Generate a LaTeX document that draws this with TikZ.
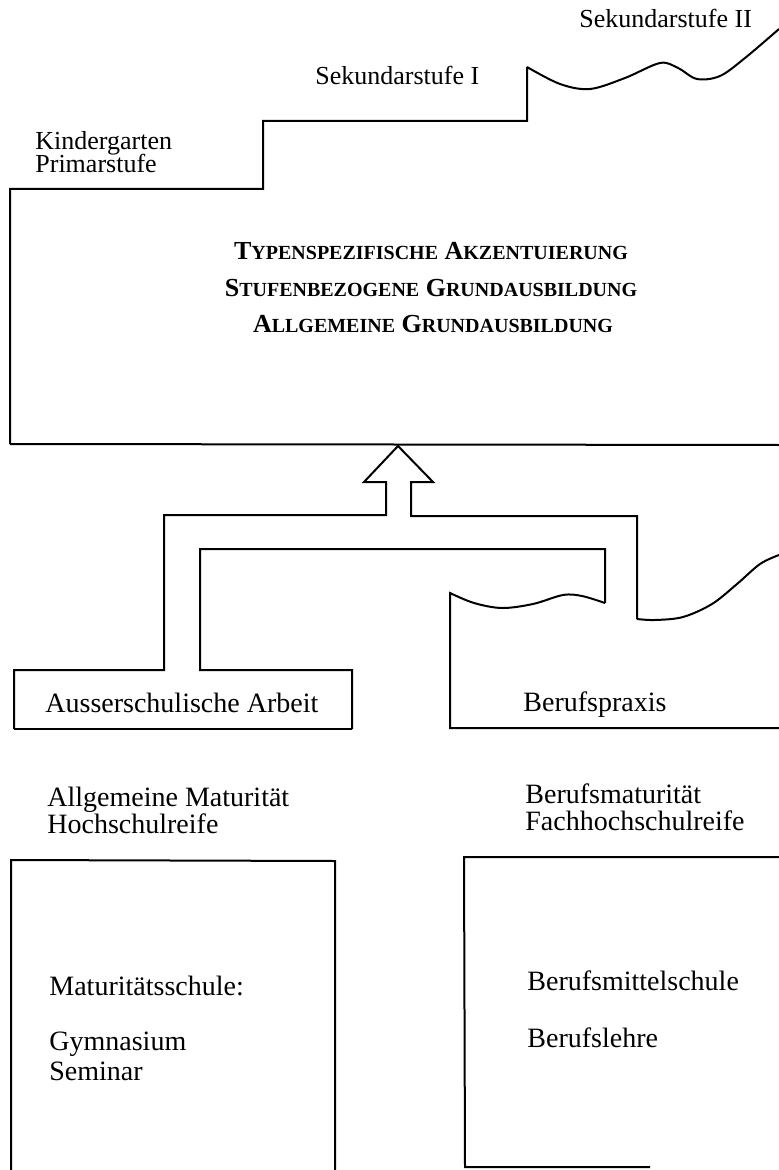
\documentclass[tikz,border=0pt]{standalone}
\usepackage{fontspec}
\setmainfont{Liberation Serif}
\newcommand{\mysc}[2]{#1{\fontsize{10}{10}\selectfont #2}}
\tikzset{
  lbl/.style={anchor=base west, inner sep=0pt, font=\fontsize{14}{14}\selectfont},
  toplbl/.style={anchor=base west, inner sep=0pt, font=\fontsize{13}{13}\selectfont},
  head/.style={anchor=base, inner sep=0pt, font=\bfseries\fontsize{13}{13}\selectfont},
  stroke/.style={line width=1pt, line join=miter, line cap=butt}
}
\begin{document}
\begin{tikzpicture}[x=0.5pt,y=-0.5pt]
\useasboundingbox (0,0) rectangle (779,1170);

% ---- staircase (upper field)
\coordinate (bl) at (10,444);
\coordinate (br) at (779,445);
\draw[stroke] (bl) -- (10,189) -- (263,189) -- (263,121) -- (527,121) -- (527,67)
  plot[smooth, tension=0.55] coordinates {(527,67) (560,84) (590,89) (625,78) (660,63) (678,68) (697,79) (720,76) (745,58) (779,29)};
\draw[stroke] (bl) -- (br);

\node[toplbl] (kg) at (35,150) {Kindergarten};
\node[toplbl] (ps) at (35,173) {Primarstufe};
\node[toplbl] (s1) at (315,85) {Sekundarstufe I};
\node[toplbl] (s2) at (579,28) {Sekundarstufe II};

\node[head] (h1) at (431,260) {\mysc{T}{YPENSPEZIFISCHE} \mysc{A}{KZENTUIERUNG}};
\node[head] (h2) at (431,297) {\mysc{S}{TUFENBEZOGENE} \mysc{G}{RUNDAUSBILDUNG}};
\node[head] (h3) at (433,333) {\mysc{A}{LLGEMEINE} \mysc{G}{RUNDAUSBILDUNG}};

% ---- arrow and outer branch
\coordinate (apex) at (398,446);
\draw[stroke] (14,729) -- (14,670) -- (164,670) -- (164,515) -- (386,515) -- (386,482)
  -- (364,482) -- (apex) -- (433,482) -- (411,482) -- (411,516) -- (637,516) -- (637,619)
  plot[smooth, tension=0.55] coordinates {(637,619) (655,620) (683,617) (712,604) (737,584) (760,564) (779,555)};

% ---- inner branch
\draw[stroke] (352,729) -- (352,670) -- (200,670) -- (200,549) -- (605,549) -- (605,603)
  plot[smooth, tension=0.55] coordinates {(605,603) (582,596) (563,595) (533,604) (502,608) (474,603) (450,593)}
  -- (450,728) -- (779,728);
\draw[stroke] (14,729) -- (352,729);

\node[lbl] (aa) at (45,712) {Ausserschulische Arbeit};
\node[lbl] (bp) at (523,711) {Berufspraxis};

% ---- lower labels
\node[lbl] (am) at (47,806) {Allgemeine Maturität};
\node[lbl] (hr) at (47,833) {Hochschulreife};
\node[lbl] (bm) at (525,803) {Berufsmaturität};
\node[lbl] (fr) at (525,830) {Fachhochschulreife};

% ---- lower boxes
\draw[stroke] (11,1170) -- (11,860) -- (335,861) -- (335,1170);
\draw[stroke] (779,857) -- (464,857) -- (465,1167) -- (650,1167);

\node[lbl] (ms) at (49,995) {Maturitätsschule:};
\node[lbl] (gy) at (49,1050) {Gymnasium};
\node[lbl] (se) at (49,1080) {Seminar};
\node[lbl] (bs) at (527,990) {Berufsmittelschule};
\node[lbl] (bl2) at (527,1047) {Berufslehre};
\end{tikzpicture}
\end{document}
